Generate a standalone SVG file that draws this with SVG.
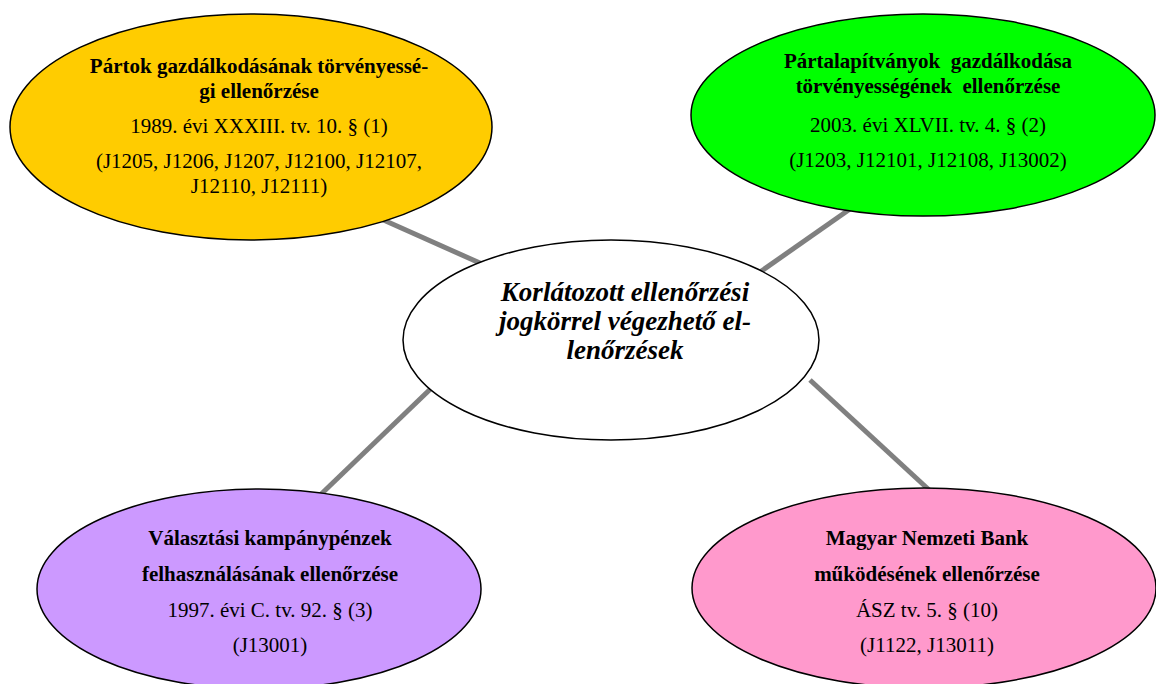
<svg xmlns="http://www.w3.org/2000/svg" width="1156" height="684" viewBox="0 0 1156 684">
<style>
.n{stroke:#000;stroke-width:1.5}
.b{font-family:"Liberation Serif","Times New Roman",serif;font-weight:bold;font-size:21px;text-anchor:middle;fill:#000}
.r{font-family:"Liberation Serif","Times New Roman",serif;font-size:21px;text-anchor:middle;fill:#000}
.c{font-family:"Liberation Serif","Times New Roman",serif;font-weight:bold;font-style:italic;font-size:27px;text-anchor:middle;fill:#000}
.l{stroke:#808080;stroke-width:5;fill:none}
</style>
<rect width="1156" height="684" fill="#fff"/>
<g id="connectors">
<line class="l" x1="370" y1="214" x2="500" y2="272"/>
<line class="l" x1="860" y1="202" x2="760" y2="272"/>
<line class="l" x1="445" y1="375" x2="315" y2="500"/>
<line class="l" x1="810" y1="380" x2="940" y2="500"/>
</g>
<g id="n1">
<ellipse class="n" cx="251" cy="127" rx="241" ry="113" fill="#FFCC00"/>
<text class="b" x="259" y="73">Pártok gazdálkodásának törvényessé-</text>
<text class="b" x="259" y="98">gi ellenőrzése</text>
<text class="r" x="259" y="133">1989. évi XXXIII. tv. 10. § (1)</text>
<text class="r" x="259" y="168">(J1205, J1206, J1207, J12100, J12107,</text>
<text class="r" x="259" y="193">J12110, J12111)</text>
</g>
<g id="n2">
<ellipse class="n" cx="923" cy="115" rx="232" ry="101" fill="#00FF00"/>
<text class="b" x="928" y="68" xml:space="preserve">Pártalapítványok  gazdálkodása</text>
<text class="b" x="928" y="93" xml:space="preserve">törvényességének  ellenőrzése</text>
<text class="r" x="928" y="132">2003. évi XLVII. tv. 4. § (2)</text>
<text class="r" x="928" y="167">(J1203, J12101, J12108, J13002)</text>
</g>
<g id="center">
<ellipse class="n" cx="611" cy="340" rx="208" ry="100" fill="#fff"/>
<text class="c" x="625" y="301">Korlátozott ellenőrzési</text>
<text class="c" x="625" y="330">jogkörrel végezhető el-</text>
<text class="c" x="625" y="359">lenőrzések</text>
</g>
<g id="n3">
<ellipse class="n" cx="259" cy="589" rx="222" ry="100" fill="#CC99FF"/>
<text class="b" x="270" y="545">Választási kampánypénzek</text>
<text class="b" x="270" y="581">felhasználásának ellenőrzése</text>
<text class="r" x="270" y="617">1997. évi C. tv. 92. § (3)</text>
<text class="r" x="270" y="652">(J13001)</text>
</g>
<g id="n4">
<ellipse class="n" cx="924" cy="588" rx="232" ry="100" fill="#FF99CC"/>
<text class="b" x="927" y="545">Magyar Nemzeti Bank</text>
<text class="b" x="927" y="581">működésének ellenőrzése</text>
<text class="r" x="927" y="617">ÁSZ tv. 5. § (10)</text>
<text class="r" x="927" y="652">(J1122, J13011)</text>
</g>
</svg>
